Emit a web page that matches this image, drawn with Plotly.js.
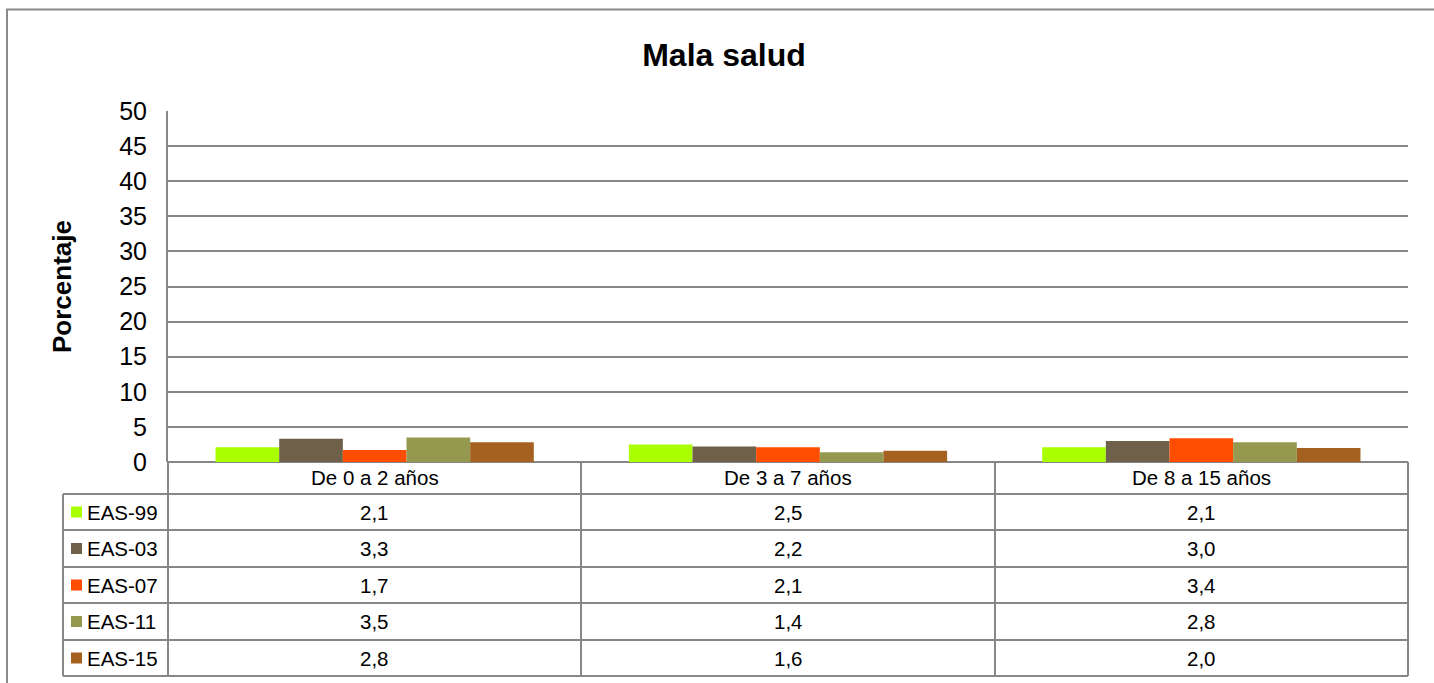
<!DOCTYPE html>
<html><head><meta charset="utf-8">
<script src="https://cdn.plot.ly/plotly-3.0.1.min.js"></script>
<style>body{margin:0;background:#fff}#chart{width:1434px;height:683px}</style>
</head><body><div id="chart"></div>
<script>
const categories = ['De 0 a 2 años', 'De 3 a 7 años', 'De 8 a 15 años'];
const seriesNames = ['EAS-99', 'EAS-03', 'EAS-07', 'EAS-11', 'EAS-15'];
const eas99 = [2.1, 2.5, 2.1];
const eas03 = [3.3, 2.2, 3.0];
const eas07 = [1.7, 2.1, 3.4];
const eas11 = [3.5, 1.4, 2.8];
const eas15 = [2.8, 1.6, 2.0];
const seriesValues = [eas99, eas03, eas07, eas11, eas15];
const colors = ['#AAFF00', '#6E6049', '#FF4D00', '#94994F', '#A5611F'];
const yTicks = [0, 5, 10, 15, 20, 25, 30, 35, 40, 45, 50];

const W = 1434, H = 683;
const L = 168, R = 1408, T = 111, B = 462;
const px = x => (x - L) / (R - L);
const py = y => (B - y) / (B - T);
const gridCol = '#878787';
const font = 'Liberation Sans, Arial, sans-serif';
const tableFont = 20.5;

const traces = seriesNames.map((n, i) => ({
  type: 'bar', name: n, x: categories, y: seriesValues[i],
  marker: {color: colors[i], line: {width: 0}}, hoverinfo: 'x+y+name'
}));

const shapes = [];
const annotations = [];
const line = (x0, y0, x1, y1) => shapes.push({type: 'line', xref: 'paper', yref: 'paper',
  x0: px(x0), y0: py(y0), x1: px(x1), y1: py(y1), line: {color: gridCol, width: 2}});

// outer chart border
shapes.push({type: 'rect', xref: 'paper', yref: 'paper', x0: px(7), y0: py(9.5), x1: px(1445), y1: py(700),
  line: {color: '#8a8a8a', width: 2}, fillcolor: 'rgba(0,0,0,0)'});

// table geometry
const colEdges = [L, 581, 995, R];
const rowEdges = [494, 530, 567, 603, 640, 676];
const legendLeft = 63;
rowEdges.forEach(y => line(legendLeft, y, R, y));
line(legendLeft, rowEdges[0], legendLeft, rowEdges[rowEdges.length - 1]);
colEdges.forEach(x => line(x, B, x, rowEdges[rowEdges.length - 1]));

// header labels
categories.forEach((c, j) => annotations.push({xref: 'paper', yref: 'paper',
  x: px((colEdges[j] + colEdges[j + 1]) / 2), y: py((B + rowEdges[0]) / 2),
  text: c, showarrow: false, font: {family: font, size: tableFont, color: '#000'}, xanchor: 'center', yanchor: 'middle'}));

// rows
seriesNames.forEach((n, i) => {
  const yc = (rowEdges[i] + rowEdges[i + 1]) / 2;
  shapes.push({type: 'rect', xref: 'paper', yref: 'paper', x0: px(71), x1: px(82), y0: py(yc - 5.5), y1: py(yc + 5.5),
    fillcolor: colors[i], line: {width: 0}});
  annotations.push({xref: 'paper', yref: 'paper', x: px(85), y: py(yc), text: n, showarrow: false,
    xanchor: 'left', yanchor: 'middle', font: {family: font, size: tableFont, color: '#000'}});
  seriesValues[i].forEach((v, j) => annotations.push({xref: 'paper', yref: 'paper',
    x: px((colEdges[j] + colEdges[j + 1]) / 2), y: py(yc),
    text: v.toFixed(1).replace('.', ','), showarrow: false, xanchor: 'center', yanchor: 'middle',
    font: {family: font, size: tableFont, color: '#000'}}));
});

// y-axis title
annotations.push({xref: 'paper', yref: 'paper', x: px(62), y: py(287), text: '<b>Porcentaje</b>',
  textangle: -90, showarrow: false, xanchor: 'center', yanchor: 'middle',
  font: {family: font, size: 26, color: '#000'}});

const layout = {
  width: W, height: H,
  margin: {l: L, r: W - R, t: T, b: H - B, pad: 0},
  paper_bgcolor: '#fff', plot_bgcolor: '#fff',
  title: {text: '<b>Mala salud</b>', x: px(724), xref: 'paper', xanchor: 'center',
    y: 1 - 55 / H, yanchor: 'middle', font: {family: font, size: 32, color: '#000'}},
  showlegend: false,
  barmode: 'group', bargap: 0.23, bargroupgap: 0,
  xaxis: {type: 'category', showticklabels: false, ticks: '', showgrid: false, zeroline: false,
    showline: false, fixedrange: true},
  yaxis: {range: [0, 50], tickvals: yTicks, ticktext: yTicks.map(String), showgrid: true, gridcolor: gridCol, gridwidth: 2,
    zeroline: true, zerolinecolor: gridCol, zerolinewidth: 2, showline: true, linecolor: gridCol, linewidth: 2,
    ticks: '', ticklabelstandoff: 14, tickfont: {family: font, size: 25, color: '#000'}},
  shapes: shapes, annotations: annotations
};

Plotly.newPlot('chart', traces, layout, {displayModeBar: false});
</script></body></html>
